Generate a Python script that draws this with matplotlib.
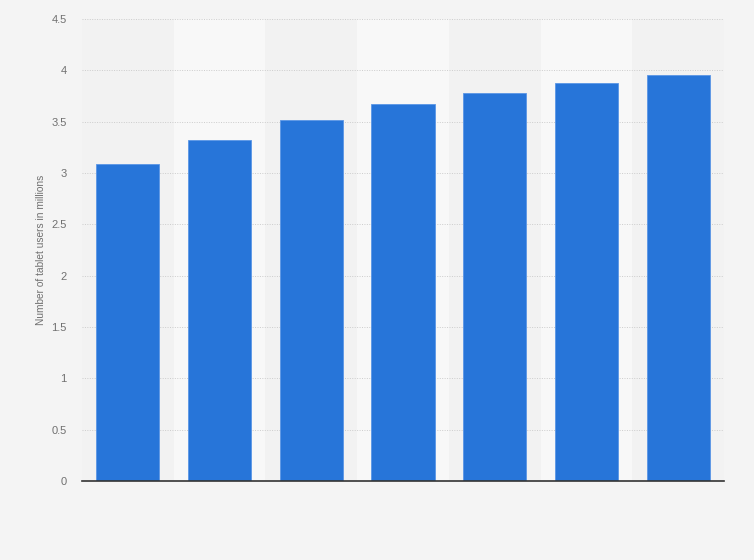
import matplotlib
matplotlib.use("Agg")
import matplotlib.pyplot as plt
import numpy as np

plt.rcParams["font.family"] = ["Liberation Sans", "DejaVu Sans"]

categories = ["1", "2", "3", "4", "5", "6", "7"]
values = [3.09, 3.32, 3.52, 3.67, 3.78, 3.88, 3.95]
yticks = [0, 0.5, 1, 1.5, 2, 2.5, 3, 3.5, 4, 4.5]
ytick_labels = ["0", "0.5", "1", "1.5", "2", "2.5", "3", "3.5", "4", "4.5"]

fig = plt.figure(figsize=(7.54, 5.6), dpi=100)
fig.patch.set_facecolor("#f4f4f4")
ax = fig.add_axes([82/754, 79/560, 642/754, 462/560])
ax.set_facecolor("#f2f2f2")

x = np.arange(len(categories))
for i in x:
    if i % 2 == 1:
        ax.axvspan(i - 0.5, i + 0.5, color="#f8f8f8", zorder=0, lw=0)

ax.bar(x, values, width=0.69, color="#2775d9", edgecolor="#5a96e6", linewidth=0.6, zorder=3)

ax.set_xlim(-0.5, len(categories) - 0.5)
ax.set_ylim(0, 4.5)
ax.set_yticks(yticks)
ax.set_yticklabels(ytick_labels)
ax.set_xticks([])
ax.yaxis.grid(True, linestyle=(0, (1, 1.5)), color="#cccccc", linewidth=0.7, zorder=1)
ax.set_axisbelow(True)
for s in ["top", "right", "left"]:
    ax.spines[s].set_visible(False)
ax.spines["bottom"].set_color("#333333")
ax.spines["bottom"].set_linewidth(1.2)
ax.spines["bottom"].set_zorder(4)
ax.tick_params(axis="y", length=0, pad=11, labelsize=8, labelcolor="#707070")
ax.set_ylabel("Number of tablet users in millions", fontsize=7.3, color="#707070", labelpad=3.5)

fig.savefig("out.png", dpi=100, facecolor=fig.get_facecolor())
